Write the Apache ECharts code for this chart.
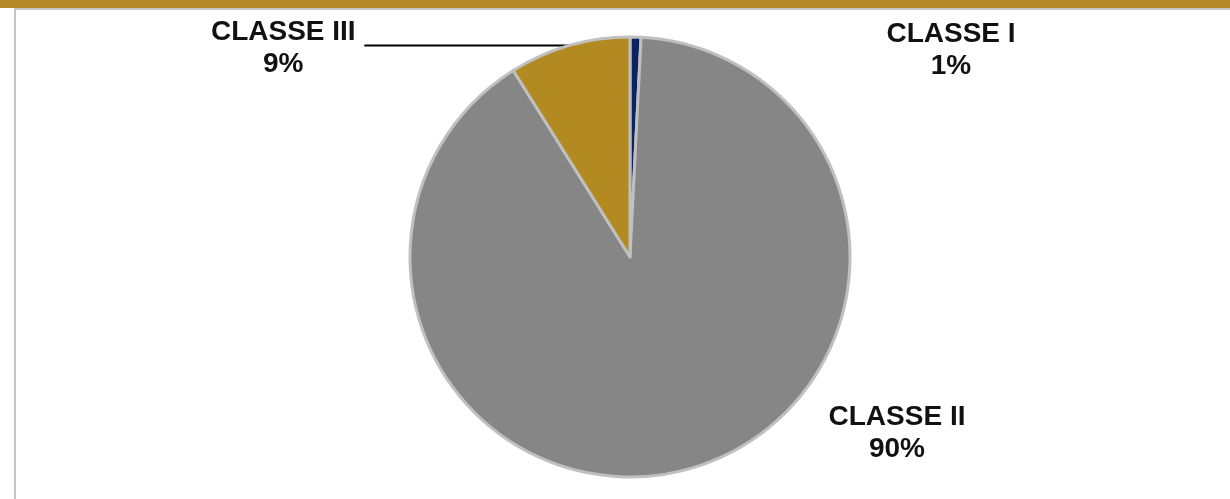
<!DOCTYPE html>
<html>
<head>
<meta charset="utf-8">
<script src="https://cdn.jsdelivr.net/npm/echarts@6/dist/echarts.min.js"></script>
<style>
html, body { margin: 0; padding: 0; background: #ffffff; }
#band { position: absolute; left: 0; top: 0; width: 1230px; height: 8px; background: #b5892a; }
#frame { position: absolute; left: 14px; top: 8px; width: 1230px; height: 499px; border-top: 2px solid #c8c8c8; border-left: 2px solid #c4c4c4; }
#chart { position: absolute; left: 0; top: 0; width: 1230px; height: 499px; }
</style>
</head>
<body>
<div id="band"></div>
<div id="frame"></div>
<div id="chart"></div>
<script>
const categories = ['CLASSE I', 'CLASSE II', 'CLASSE III'];
const values = [0.8, 90.3, 8.9];
const colors = ['#0c2361', '#868686', '#b38a22'];

const chart = echarts.init(document.getElementById('chart'));
const labelPos = { 0: [951, 50], 1: [897, 433] };

chart.setOption({
  animation: false,
  series: [{
    type: 'pie',
    center: [630, 257],
    radius: 220,
    startAngle: 90,
    clockwise: true,
    percentPrecision: 0,
    avoidLabelOverlap: false,
    itemStyle: { borderColor: '#c0c0c0', borderWidth: 3 },
    label: {
      show: true,
      position: 'outside',
      formatter: '{t|{b}}\n{t|{d}%}',
      distanceToLabelLine: 6,
      rich: {
        t: {
          width: 150, align: 'center', fontSize: 28, fontWeight: 'bold',
          fontFamily: "'Liberation Sans', Arial, sans-serif", color: '#111111', lineHeight: 32
        }
      }
    },
    labelLine: {
      show: true, length: 0, length2: 205,
      lineStyle: { color: '#000000', width: 2 }
    },
    labelLayout: function (params) {
      const p = labelPos[params.dataIndex];
      if (p) {
        return { x: p[0], y: p[1], align: 'center', verticalAlign: 'middle' };
      }
      return {};
    },
    data: categories.map((c, i) => ({
      name: c,
      value: values[i],
      itemStyle: { color: colors[i] },
      label: i === 2 ? { padding: [6, 0, 0, 0] } : {},
      labelLine: { show: i === 2 }
    }))
  }]
});
</script>
</body>
</html>
